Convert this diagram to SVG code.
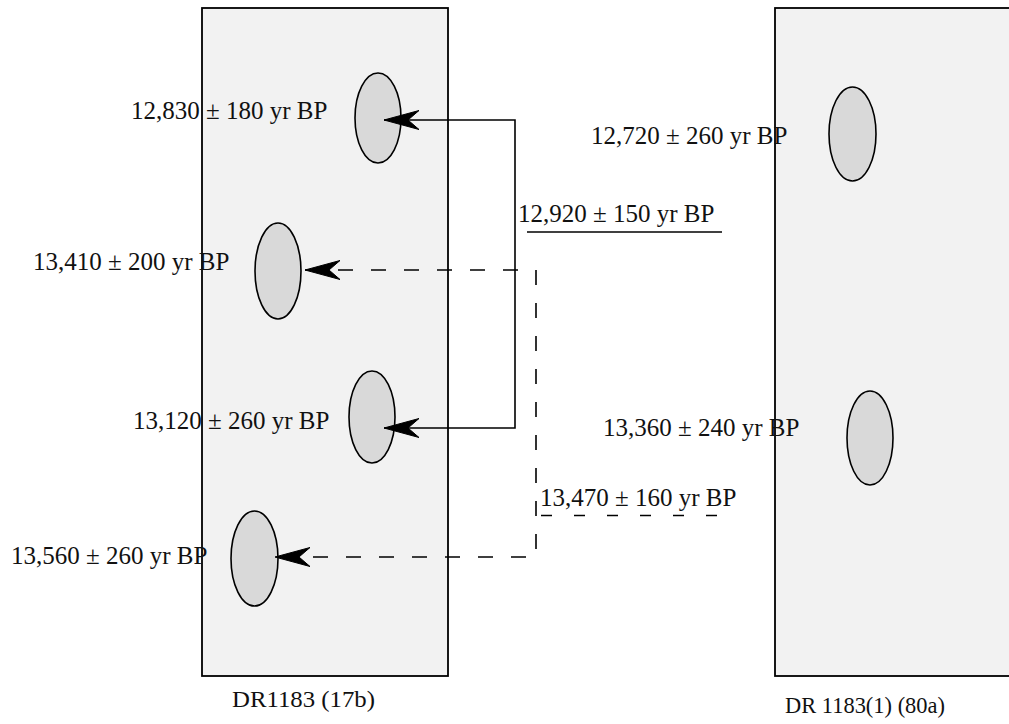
<svg xmlns="http://www.w3.org/2000/svg" width="1009" height="724" viewBox="0 0 1009 724">
  <style>
    .core { fill: #f2f2f2; stroke: #000; stroke-width: 1.8; }
    .sample { fill: #d9d9d9; stroke: #000; stroke-width: 1.6; }
    .label { font-family: "Liberation Serif", "Times New Roman", serif; font-size: 25px; fill: #111; }
    .caption { font-size: 23px; }
    .link { fill: none; stroke: #000; stroke-width: 1.6; }
    .dash { stroke-dasharray: 15 18; }
  </style>
  <defs>
    <marker id="barb" markerUnits="userSpaceOnUse" viewBox="0 -10 36 20" markerWidth="36" markerHeight="20" refX="35" refY="0" orient="auto-start-reverse">
      <path d="M35,0 L0,-9.5 L11,0 L0,9.5 Z" fill="#000" stroke="#000" stroke-width="1" stroke-linejoin="miter"/>
    </marker>
  </defs>

  <rect width="1009" height="724" fill="#fff"/>

  <!-- core DR1183 (17b) -->
  <g id="core-17b">
    <rect class="core" x="202" y="8" width="246" height="668"/>
    <text class="label caption" x="232" y="707" textLength="143" lengthAdjust="spacingAndGlyphs">DR1183 (17b)</text>
  </g>

  <!-- core DR 1183(1) (80a) -->
  <g id="core-80a">
    <rect class="core" x="775" y="8" width="240" height="668"/>
    <text class="label caption" x="785" y="713" textLength="160" lengthAdjust="spacingAndGlyphs">DR 1183(1) (80a)</text>
  </g>

  <!-- samples, core 17b -->
  <g id="s-12830">
    <ellipse class="sample" cx="378" cy="118" rx="23" ry="45"/>
    <text class="label" x="131" y="119">12,830 ± 180 yr BP</text>
  </g>
  <g id="s-13410">
    <ellipse class="sample" cx="278" cy="271" rx="23" ry="48"/>
    <text class="label" x="33" y="270">13,410 ± 200 yr BP</text>
  </g>
  <g id="s-13120">
    <ellipse class="sample" cx="372" cy="417" rx="23" ry="46"/>
    <text class="label" x="133" y="429">13,120 ± 260 yr BP</text>
  </g>
  <g id="s-13560">
    <ellipse class="sample" cx="254.5" cy="558.5" rx="23.5" ry="47.5"/>
    <text class="label" x="11" y="564">13,560 ± 260 yr BP</text>
  </g>

  <!-- samples, core 80a -->
  <g id="s-12720">
    <ellipse class="sample" cx="852.5" cy="134" rx="23.5" ry="47"/>
    <text class="label" x="591" y="144">12,720 ± 260 yr BP</text>
  </g>
  <g id="s-13360">
    <ellipse class="sample" cx="870" cy="438" rx="23" ry="47"/>
    <text class="label" x="603" y="436">13,360 ± 240 yr BP</text>
  </g>

  <!-- connectors with combined ages -->
  <g id="connectors">
    <path class="link" d="M384,120 H515 V428 H384" marker-start="url(#barb)" marker-end="url(#barb)"/>
    <path class="link dash" d="M305,270 H536 V557 H275" marker-start="url(#barb)" marker-end="url(#barb)"/>
    <g id="combined-12920">
      <text class="label" x="518" y="222">12,920 ± 150 yr BP</text>
      <line class="link" x1="527" y1="232" x2="722" y2="232"/>
    </g>
    <g id="combined-13470">
      <text class="label" x="540" y="506">13,470 ± 160 yr BP</text>
      <line class="link" x1="541" y1="515.5" x2="720" y2="515.5" style="stroke-dasharray:11 22"/>
    </g>
  </g>
</svg>
